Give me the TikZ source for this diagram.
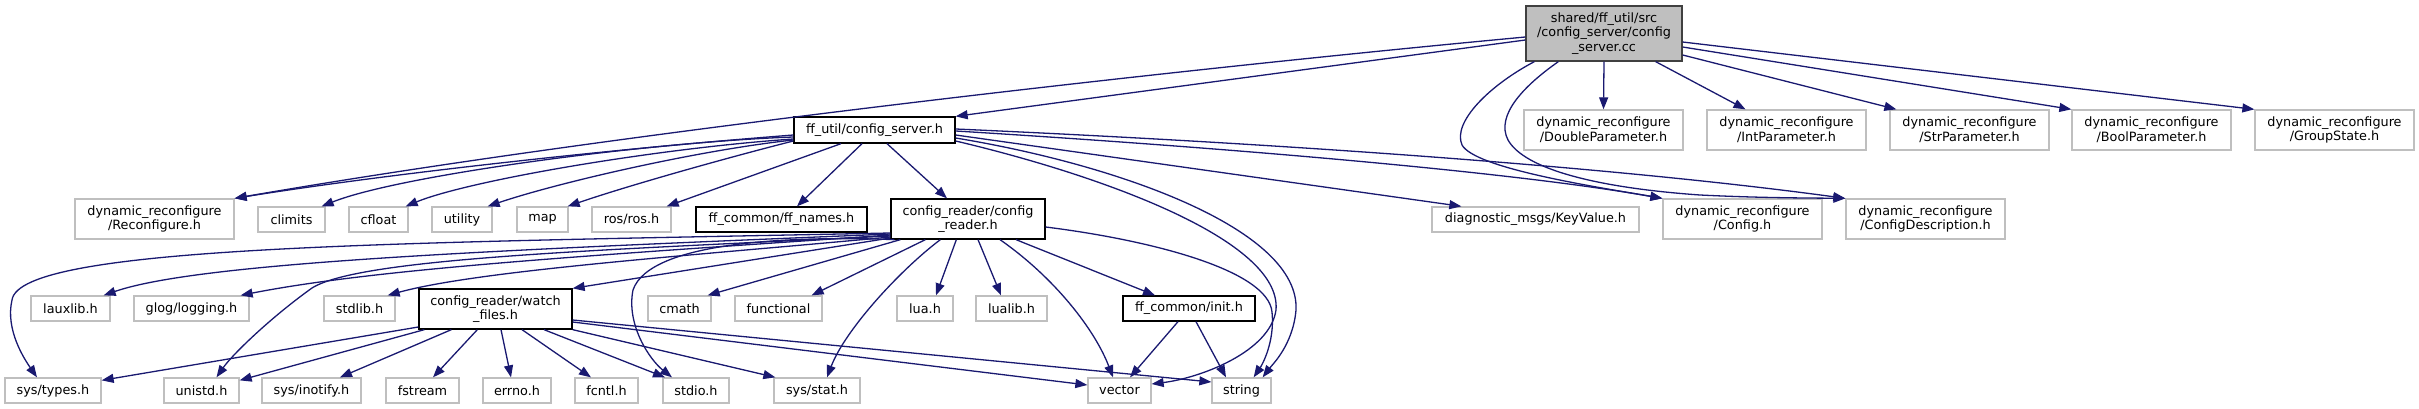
\documentclass[tikz,border=0pt]{standalone}
\usepackage{fontspec}
\setmainfont{DejaVu Sans}
\usetikzlibrary{arrows.meta}
\definecolor{edgecol}{HTML}{191970}
\definecolor{graybd}{HTML}{BFBFBF}
\definecolor{topfill}{HTML}{BFBFBF}
\definecolor{topbd}{HTML}{404040}
\tikzset{
  nb/.style={rectangle, inner sep=0pt, align=center, fill=white, line width=1.3pt,
    font=\fontsize{12.8}{14.7}\selectfont},
  gbox/.style={nb, draw=graybd},
  bbox/.style={nb, draw=black},
  tbox/.style={nb, draw=topbd, fill=topfill},
  e/.style={draw=edgecol, line width=1.3pt, -{Triangle[length=12pt,width=9pt]}},
}
\newcommand{\bx}[7]{\node[#1, minimum width=#5pt, minimum height=#6pt] (#2) at (#3,#4) {#7};}
\begin{document}
\begin{tikzpicture}[x=1pt,y=-1pt]
\useasboundingbox (0,0) rectangle (2419,409);
% nodes
\bx{tbox}{top}{1604}{33.5}{156}{55}{shared/ff\_util/src\\/config\_server/config\\\_server.cc}
\bx{bbox}{csh}{874.5}{130}{161}{26}{ff\_util/config\_server.h}
\bx{gbox}{dbl}{1603.5}{130}{159}{40}{dynamic\_reconfigure\\/DoubleParameter.h}
\bx{gbox}{int}{1786.5}{130}{159}{40}{dynamic\_reconfigure\\/IntParameter.h}
\bx{gbox}{str}{1969.5}{130}{159}{40}{dynamic\_reconfigure\\/StrParameter.h}
\bx{gbox}{bool}{2151.5}{130}{159}{40}{dynamic\_reconfigure\\/BoolParameter.h}
\bx{gbox}{grp}{2334.5}{130}{159}{40}{dynamic\_reconfigure\\/GroupState.h}
% row 2
\bx{gbox}{rec}{154.5}{219}{159}{40}{dynamic\_reconfigure\\/Reconfigure.h}
\bx{gbox}{clim}{291.5}{219.5}{67}{25}{climits}
\bx{gbox}{cflt}{378.5}{219.5}{59}{25}{cfloat}
\bx{gbox}{util}{462}{219.5}{60}{25}{utility}
\bx{gbox}{map}{542.5}{219.5}{51}{25}{map}
\bx{gbox}{ros}{631.5}{219.5}{79}{25}{ros/ros.h}
\bx{bbox}{ffn}{781.5}{219.5}{171}{25}{ff\_common/ff\_names.h}
\bx{bbox}{crd}{968}{219}{154}{40}{config\_reader/config\\\_reader.h}
\bx{gbox}{kv}{1535.5}{219.5}{207}{25}{diagnostic\_msgs/KeyValue.h}
\bx{gbox}{cfg}{1742.5}{219}{159}{40}{dynamic\_reconfigure\\/Config.h}
\bx{gbox}{cdesc}{1925.5}{219}{159}{40}{dynamic\_reconfigure\\/ConfigDescription.h}
% row 3
\bx{gbox}{laux}{70.5}{308.5}{79}{25}{lauxlib.h}
\bx{gbox}{glog}{191.5}{308.5}{115}{25}{glog/logging.h}
\bx{gbox}{stdl}{359.5}{308.5}{71}{25}{stdlib.h}
\bx{bbox}{wf}{495.5}{309}{153}{40}{config\_reader/watch\\\_files.h}
\bx{gbox}{cmath}{679.5}{308.5}{63}{25}{cmath}
\bx{gbox}{func}{778.5}{308.5}{87}{25}{functional}
\bx{gbox}{lua}{925}{308.5}{56}{25}{lua.h}
\bx{gbox}{lualib}{1011.5}{308.5}{71}{25}{lualib.h}
\bx{bbox}{init}{1189}{308.5}{132}{25}{ff\_common/init.h}
% row 4
\bx{gbox}{types}{53}{390.5}{96}{25}{sys/types.h}
\bx{gbox}{unistd}{201.5}{390.5}{75}{25}{unistd.h}
\bx{gbox}{inotify}{311.5}{390.5}{99}{25}{sys/inotify.h}
\bx{gbox}{fstream}{422.5}{390.5}{73}{25}{fstream}
\bx{gbox}{errno}{517}{390.5}{68}{25}{errno.h}
\bx{gbox}{fcntl}{606.5}{390.5}{63}{25}{fcntl.h}
\bx{gbox}{stdio}{696}{390.5}{66}{25}{stdio.h}
\bx{gbox}{stat}{817}{390.5}{86}{25}{sys/stat.h}
\bx{gbox}{vector}{1119.5}{390.5}{63}{25}{vector}
\bx{gbox}{string}{1241.5}{390.5}{59}{25}{string}
% edges from top
\draw[e] ([yshift=-6.5pt]top.west) -- (csh.north east);
\draw[e] ([yshift=-3.5pt]top.west) .. controls (1150,72) and (600,135) .. (rec.north east);
\draw[e] ([xshift=9pt]top.south west) .. controls (1490,85) and (1452,122) .. (1462,145) .. controls (1475,168) and (1590,186) .. (cfg.north west);
\draw[e] ([xshift=33pt]top.south west) .. controls (1525,85) and (1495,115) .. (1508,140) .. controls (1525,170) and (1600,188) .. (1700,195) .. controls (1760,198) and (1810,198) .. (cdesc.north west);
\draw[e] (top.south) -- (dbl.north);
\draw[e] ([xshift=-27pt]top.south east) -- ([xshift=-41pt]int.north);
\draw[e] ([yshift=-21.5pt]top.east) -- ([xshift=7pt]str.north west);
\draw[e] ([yshift=-13.5pt]top.east) -- (bool.north west);
\draw[e] ([yshift=-8.5pt]top.east) -- (grp.north west);
% edges from config_server.h
\draw[e] ([yshift=-5pt]csh.west) .. controls (600,150) and (380,175) .. (rec.north east);
\draw[e] ([yshift=-7pt]csh.west) .. controls (650,142) and (400,175) .. ([xshift=-4pt]clim.north east);
\draw[e] ([yshift=-9pt]csh.west) .. controls (660,148) and (470,180) .. ([xshift=-3pt]cflt.north east);
\draw[e] ([yshift=-10pt]csh.west) .. controls (700,150) and (560,182) .. ([xshift=-5pt]util.north east);
\draw[e] ([yshift=-11pt]csh.west) .. controls (730,157) and (630,185) .. ([xshift=-1pt]map.north east);
\draw[e] ([xshift=-33.5pt]csh.south) -- ([xshift=-5pt]ros.north east);
\draw[e] ([xshift=-12.5pt]csh.south) -- ([xshift=15.5pt]ffn.north);
\draw[e] ([xshift=12.5pt]csh.south) -- ([xshift=-21pt]crd.north);
\draw[e] ([yshift=-5pt]csh.east) -- ([xshift=30pt]kv.north west);
\draw[e] ([yshift=-1pt]csh.east) .. controls (1200,146) and (1500,170) .. (cfg.north west);
\draw[e] ([yshift=1pt]csh.east) .. controls (1250,142) and (1600,165) .. (cdesc.north west);
\draw[e] ([yshift=-8pt]csh.east) .. controls (1120,165) and (1300,230) .. (1296,310) .. controls (1293,345) and (1272,365) .. ([xshift=-9pt]string.north east);
\draw[e] ([yshift=-11pt]csh.east) .. controls (1100,175) and (1282,240) .. (1276,310) .. controls (1270,352) and (1200,378) .. ([yshift=6.5pt]vector.east);
% edges from config_reader.h
\draw[e] ([yshift=-8pt]crd.east) .. controls (1150,240) and (1268,270) .. (1272,312) .. controls (1275,342) and (1262,365) .. ([xshift=-18pt]string.north east);
\draw[e] ([yshift=-14pt]crd.west) .. controls (400,243) and (20,245) .. (12,300) .. controls (5,330) and (25,360) .. ([xshift=-16pt]types.north);
\draw[e] ([yshift=-15pt]crd.west) .. controls (500,250) and (200,262) .. ([xshift=-7pt]laux.north east);
\draw[e] ([yshift=-16pt]crd.west) .. controls (600,255) and (380,268) .. ([xshift=-9pt]glog.north east);
\draw[e] ([yshift=-17pt]crd.west) .. controls (600,250) and (360,258) .. (312,288) .. controls (270,318) and (232,355) .. ([xshift=15pt]unistd.north);
\draw[e] ([yshift=-18pt]crd.west) .. controls (700,255) and (480,270) .. ([xshift=-8pt]stdl.north east);
\draw[e] ([yshift=-19pt]crd.west) -- (wf.north east);
\draw[e] ([xshift=10pt]crd.south west) -- ([xshift=-4pt]cmath.north east);
\draw[e] ([xshift=35pt]crd.south west) -- ([xshift=-11pt]func.north east);
\draw[e] ([xshift=4pt]crd.south west) .. controls (800,236) and (650,240) .. (633,290) .. controls (626,325) and (650,360) .. ([xshift=-24pt]stdio.north);
\draw[e] ([xshift=50pt]crd.south west) .. controls (900,270) and (845,330) .. ([xshift=10pt]stat.north);
\draw[e] ([xshift=66pt]crd.south west) -- ([xshift=11pt]lua.north);
\draw[e] ([xshift=10pt]crd.south) -- ([xshift=-10.5pt]lualib.north);
\draw[e] ([xshift=32pt]crd.south) .. controls (1055,278) and (1095,330) .. ([xshift=-6.5pt]vector.north);
\draw[e] ([xshift=48pt]crd.south) -- ([xshift=-34pt]init.north);
% edges from watch_files.h
\draw[e] ([yshift=-18pt]wf.west) -- ([yshift=-3pt]types.north east);
\draw[e] ([xshift=6pt]wf.south west) -- ([yshift=-3pt]unistd.north east);
\draw[e] ([xshift=33pt]wf.south west) -- ([xshift=28.5pt]inotify.north);
\draw[e] ([xshift=59pt]wf.south west) -- ([xshift=10.5pt]fstream.north);
\draw[e] ([xshift=5.5pt]wf.south) -- ([xshift=-6pt]errno.north);
\draw[e] ([xshift=26.5pt]wf.south) -- ([xshift=-15.5pt]fcntl.north);
\draw[e] ([xshift=48.5pt]wf.south) -- ([xshift=-31pt]stdio.north);
\draw[e] (wf.south east) -- ([xshift=2pt]stat.north west);
\draw[e] ([yshift=-13pt]wf.east) -- ([yshift=5.5pt]vector.west);
\draw[e] ([yshift=-11pt]wf.east) -- ([yshift=8.5pt]string.west);
% edges from init.h
\draw[e] ([xshift=-11pt]init.south) -- ([xshift=10.5pt]vector.north);
\draw[e] ([xshift=7pt]init.south) -- ([xshift=-15.5pt]string.north);
\end{tikzpicture}
\end{document}
